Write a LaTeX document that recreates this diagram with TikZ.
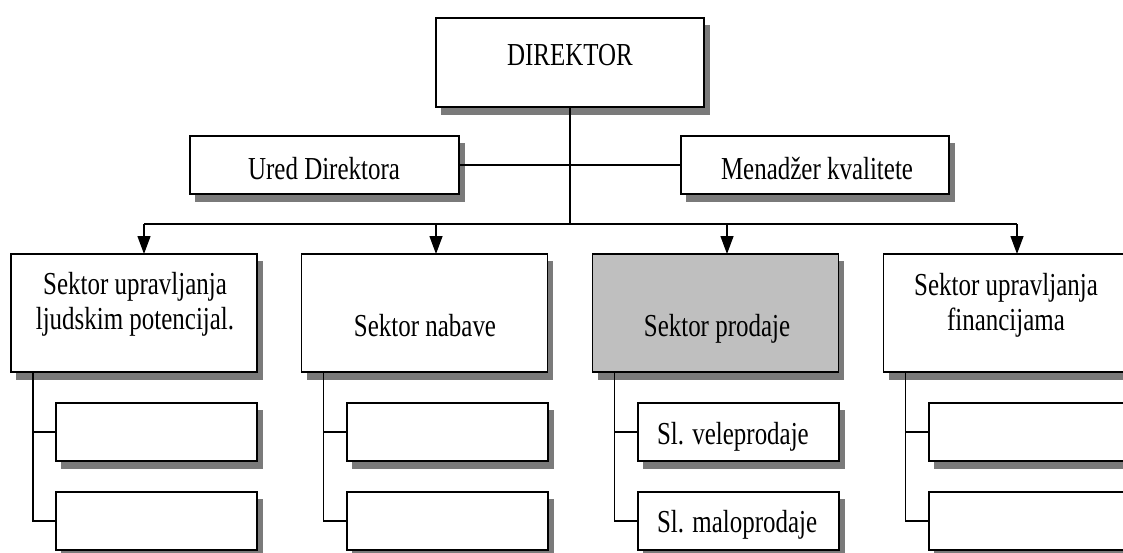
\documentclass[tikz,border=0pt]{standalone}
\usepackage{fontspec}
\setmainfont{Liberation Serif}[FakeStretch=0.78]
\usetikzlibrary{arrows.meta,calc}
\begin{document}
\begin{tikzpicture}[x=1pt,y=-1pt,
  box/.style={draw=black, line width=1.4pt, fill=white, inner sep=0pt, outer sep=0pt},
  topbox/.style={box, minimum width=268pt, minimum height=58pt},
  secbox/.style={box, minimum width=246pt, minimum height=118pt},
  subbox/.style={box, minimum width=201pt, minimum height=58pt},
  shadowc/.style={fill=black!52, draw=none},
  txt/.style={inner sep=0pt, outer sep=0pt, anchor=base, font=\fontsize{32}{35}\selectfont},
  conn/.style={line width=1.3pt, draw=black},
  arr/.style={conn, -{Triangle[length=18pt,width=13pt]}}]
\useasboundingbox (0,0) rectangle (1123,552);
\fill[white] (0,0) rectangle (1123,552);
\clip (0,0) rectangle (1123,552);

% boxes
\node[box, minimum width=268pt, minimum height=89pt] (dir) at (570,62.5) {};
\node[topbox, minimum width=269pt] (ured) at (324.5,165) {};
\node[topbox] (men) at (815,165) {};

\node[secbox] (s1) at (134,313) {};
\node[secbox] (s2) at (424.5,313) {};
\node[secbox, fill=black!25] (s3) at (715.5,313) {};
\node[secbox] (s4) at (1006.5,313) {};

\node[subbox] (s1a) at (156.5,432) {};
\node[subbox] (s1b) at (156.5,521) {};
\node[subbox] (s2a) at (447.5,432) {};
\node[subbox] (s2b) at (447.5,521) {};
\node[subbox] (s3a) at (738.5,432) {};
\node[subbox] (s3b) at (738.5,521) {};
\node[subbox] (s4a) at (1029.5,432) {};
\node[subbox] (s4b) at (1029.5,521) {};

% shadows: strips along the right and bottom edges of each box
\foreach \n in {dir,ured,men,s1,s2,s3,s4,s1a,s1b,s2a,s2b,s3a,s3b,s4a,s4b}{
  \path[shadowc] ($(\n.north east)+(0.7,7)$) rectangle ($(\n.south east)+(5.7,7.7)$);
  \path[shadowc] ($(\n.south west)+(5,0.7)$) rectangle ($(\n.south east)+(5.7,7.7)$);
}

% texts
\node[txt] (tdir) at (570,65) {DIREKTOR};
\node[txt] (tured) at (324,179) {Ured Direktora};
\node[txt] (tmen) at (817,179) {Menadžer kvalitete};
\node[txt] (ts1) at (135,294) {\vtop{\baselineskip=35pt\halign{\hfil#\hfil\cr Sektor upravljanja\cr ljudskim potencijal.\cr}}};
\node[txt] (ts2) at (425,336) {Sektor nabave};
\node[txt] (ts3) at (717,336) {Sektor prodaje};
\node[txt] (ts4) at (1006,295) {\vtop{\baselineskip=35pt\halign{\hfil#\hfil\cr Sektor upravljanja\cr financijama\cr}}};
\node[txt, anchor=base west] (ts3a) at (657,444) {Sl. veleprodaje};
\node[txt, anchor=base west] (ts3b) at (657,532) {Sl. maloprodaje};

% connectors
\coordinate (bus) at (dir.south |- 0,224);
\coordinate (b1) at (144,224);
\coordinate (b2) at (436,224);
\coordinate (b3) at (727,224);
\coordinate (b4) at (1017,224);
\draw[conn] (dir.south) -- (bus);
\draw[conn] (ured.east) -- (men.west);
\draw[conn] (b1) -- (b4);
\draw[arr] (b1) -- (b1 |- s1.north);
\draw[arr] (b2) -- (b2 |- s2.north);
\draw[arr] (b3) -- (b3 |- s3.north);
\draw[arr] (b4) -- (b4 |- s4.north);

\foreach \s in {s1,s2,s3,s4}{
  \coordinate (\s v) at ([xshift=22pt]\s.south west);
  \draw[conn] (\s v) |- (\s b.west);
  \draw[conn] (\s v |- \s a.west) -- (\s a.west);
}
\end{tikzpicture}
\end{document}
